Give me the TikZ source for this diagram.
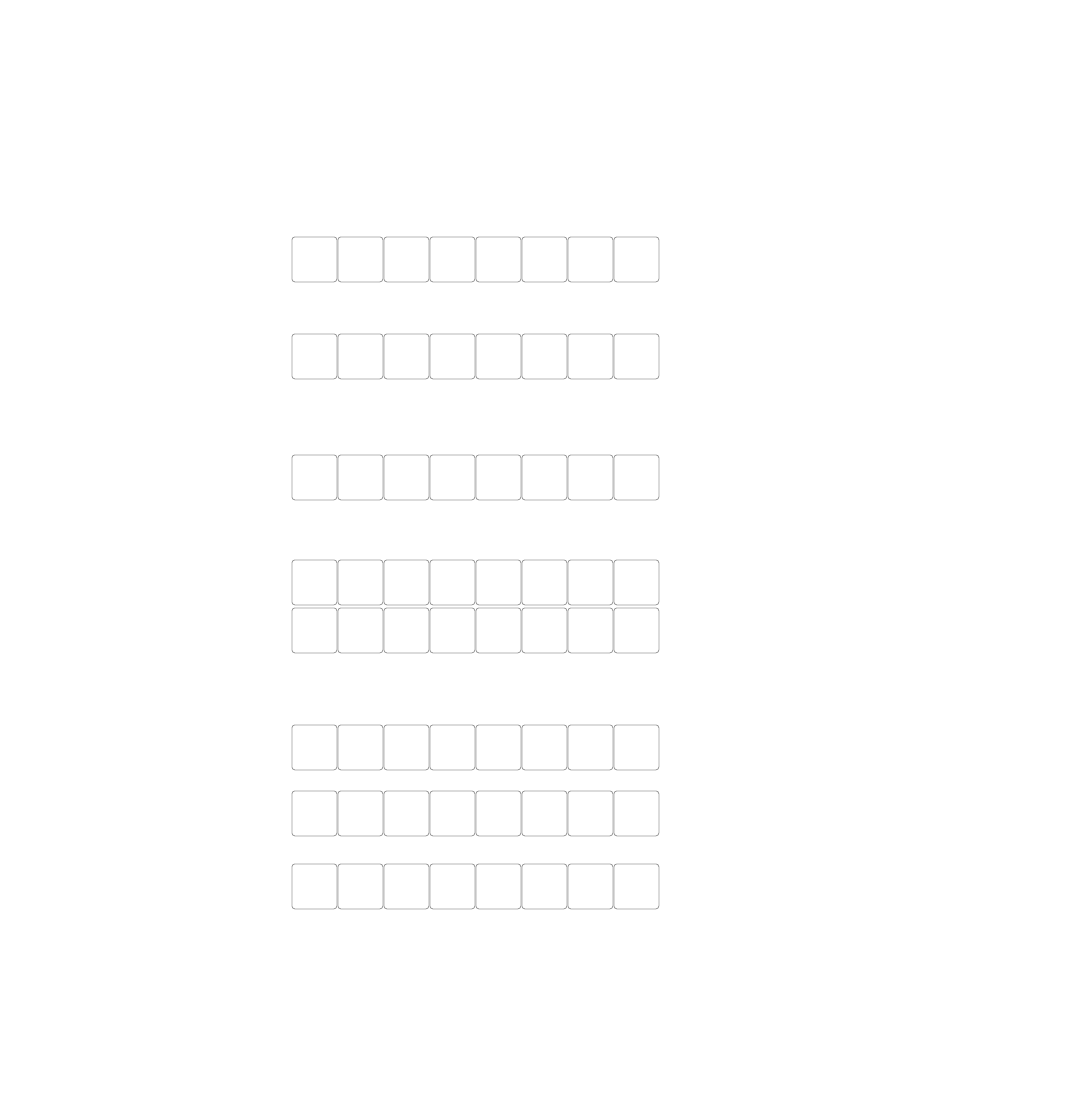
\documentclass[tikz,border=0pt]{standalone}
\begin{document}
\begin{tikzpicture}[x=1pt,y=-1pt,cell/.style={draw=black!40,line width=0.8pt,rounded corners=3pt,minimum width=45pt,minimum height=45pt,inner sep=0pt,anchor=north west}]
\useasboundingbox (0,0) rectangle (1084,1094);
\foreach \r/\y in {1/236.5,2/333.5,3/454.5,4/559.5,5/607.5,6/724.5,7/790.5,8/863.5}{
  \foreach \c in {0,...,7}{
    \node[cell] (b\r-\c) at ({291.5+46*\c},\y) {};
  }
}
\end{tikzpicture}
\end{document}
